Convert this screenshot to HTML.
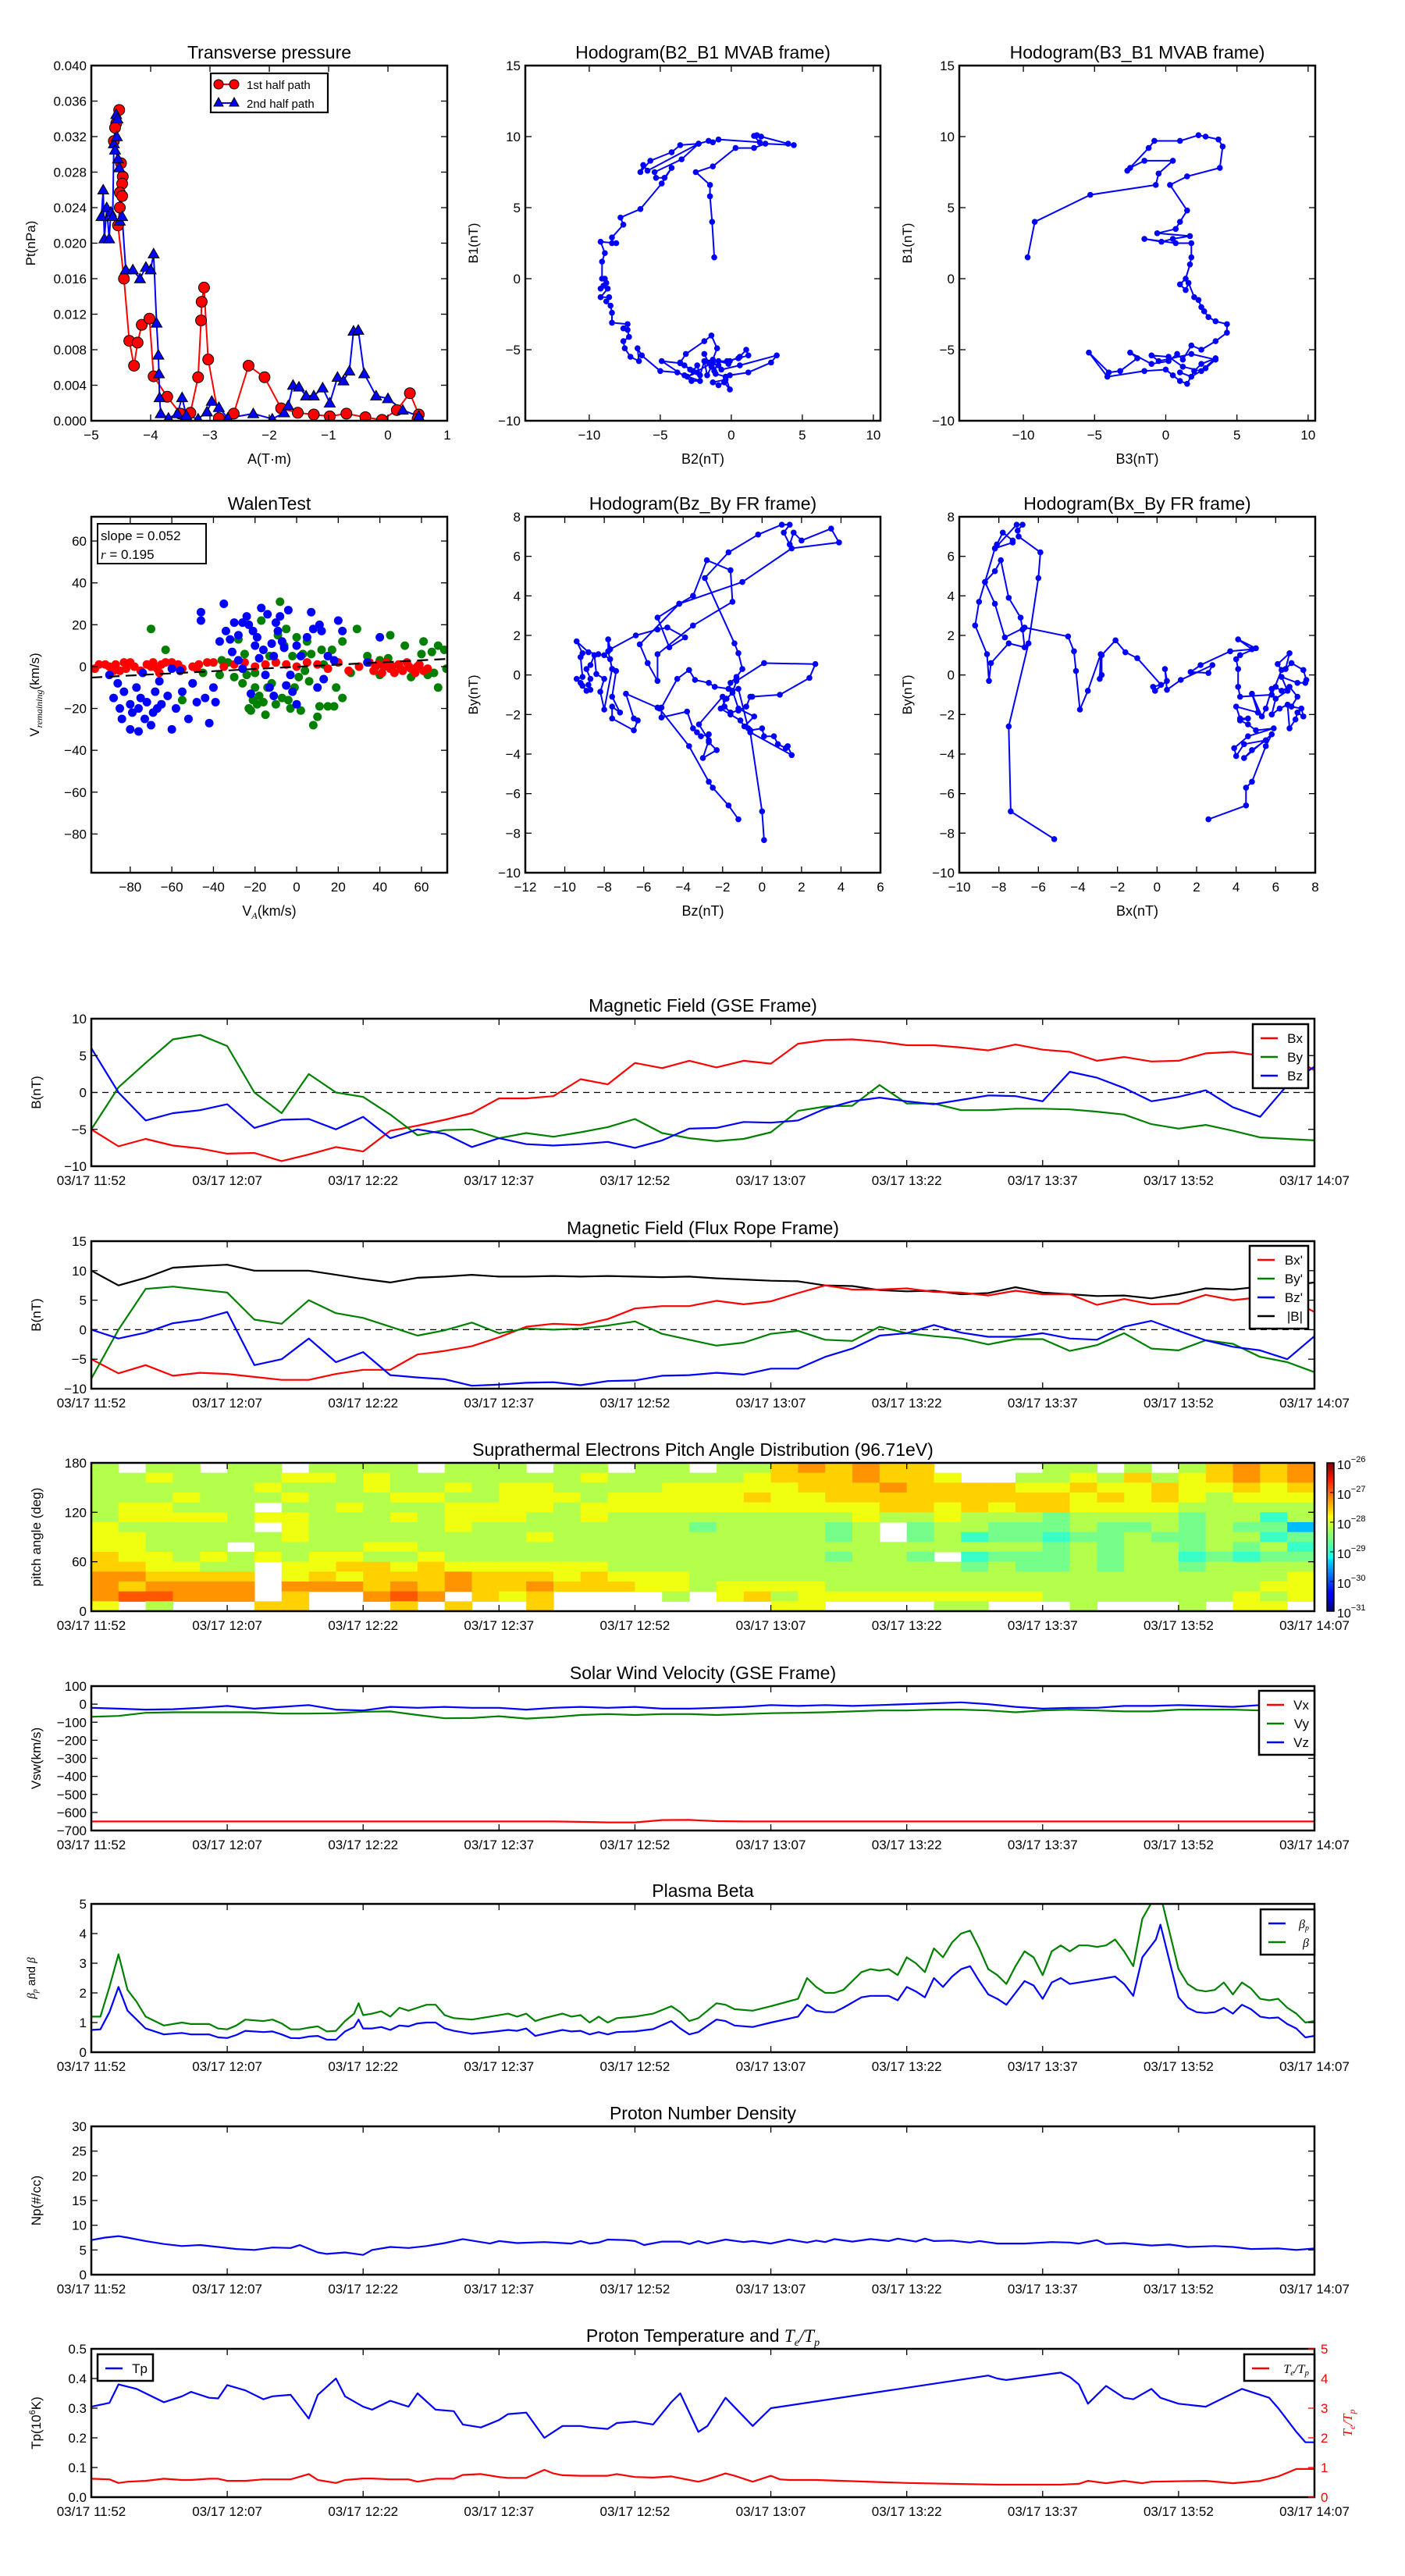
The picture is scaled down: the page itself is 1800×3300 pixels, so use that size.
<!DOCTYPE html>
<html><head><meta charset="utf-8"><title>Flux rope analysis</title>
<style>
html,body{margin:0;padding:0;background:#fff;}
svg{display:block;font-family:"Liberation Sans",sans-serif;}
</style></head>
<body>
<svg id="fig" xmlns="http://www.w3.org/2000/svg" width="1800" height="3300" viewBox="0 0 1800 3300">
<rect x="0" y="0" width="1800" height="3300" fill="#fff"/>
</svg>
<script>
// ---------------- DATA ----------------
const ptRed = [[-4.53,0.035],[-4.58,0.0335],[-4.6,0.033],[-4.62,0.0315],[-4.5,0.029],[-4.47,0.0275],[-4.48,0.0267],[-4.52,0.0257],[-4.48,0.0253],[-4.52,0.024],[-4.55,0.022],[-4.45,0.016],[-4.36,0.009],[-4.28,0.0062],[-4.22,0.0088],[-4.15,0.0108],[-4.02,0.0115],[-3.95,0.005],[-3.72,0.0027],[-3.5,0.0008],[-3.33,0.0009],[-3.2,0.0049],[-3.15,0.0113],[-3.14,0.0134],[-3.1,0.015],[-3.03,0.0069],[-2.85,0.0003],[-2.6,0.0008],[-2.35,0.0062],[-2.08,0.0049],[-1.8,0.0014],[-1.52,0.0009],[-1.25,0.0007],[-0.98,0.0005],[-0.7,0.0008],[-0.38,0.0004],[-0.1,0.0001],[0.15,0.0012],[0.37,0.0031],[0.52,0.0007],[0.5,0.0002]];
const ptBlue = [[-4.83,0.023],[-4.8,0.026],[-4.78,0.0205],[-4.74,0.024],[-4.7,0.0205],[-4.67,0.0235],[-4.64,0.023],[-4.62,0.0312],[-4.58,0.0345],[-4.56,0.034],[-4.57,0.032],[-4.6,0.0305],[-4.55,0.0295],[-4.53,0.0285],[-4.52,0.0225],[-4.48,0.023],[-4.42,0.017],[-4.3,0.017],[-4.18,0.016],[-4.08,0.0173],[-4.0,0.017],[-3.95,0.0188],[-3.9,0.011],[-3.87,0.0074],[-3.86,0.0053],[-3.85,0.0026],[-3.83,0.0008],[-3.7,0.0003],[-3.55,0.0008],[-3.47,0.0026],[-3.4,0.0006],[-3.2,0.0002],[-3.05,0.001],[-2.97,0.0022],[-2.85,0.0015],[-2.7,0.0003],[-2.27,0.0008],[-1.95,0.0002],[-1.75,0.0009],[-1.68,0.0017],[-1.6,0.004],[-1.5,0.0038],[-1.38,0.0028],[-1.25,0.0028],[-1.1,0.0037],[-0.98,0.002],[-0.85,0.0049],[-0.75,0.0045],[-0.65,0.0056],[-0.58,0.0101],[-0.5,0.0102],[-0.4,0.0053],[-0.2,0.0028],[0.0,0.0025],[0.25,0.0012],[0.52,0.0005]];

const hodoB2B1 = [[-1.2,1.5],[-1.35,4],[-1.5,5.8],[-1.5,6.6],[-2.5,7.5],[-1.3,7.9],[0.3,9.2],[1.6,9.2],[2.4,9.5],[4.4,9.4],[4,9.5],[2.1,10],[1.8,10.1],[1.6,10.05],[2,9.6],[-0.9,9.8],[-1.3,9.6],[-1.6,9.7],[-2.3,9.5],[-3.6,9.4],[-4.2,8.9],[-5.7,8.3],[-6.4,7.5],[-6.2,8],[-5.9,7.6],[-2.3,9.5],[-3.5,8.4],[-5.4,7.5],[-5.3,7.1],[-4.7,7.1],[-4.2,7.8],[-4.9,6.7],[-6.4,4.9],[-7.8,4.3],[-7.6,3.8],[-8.4,2.9],[-8.4,2.5],[-8.1,2.5],[-9.2,2.6],[-8.9,1.8],[-9.1,1.2],[-9.1,0],[-8.9,0],[-8.8,-0.3],[-9.2,-0.7],[-9,-0.5],[-8.7,-0.7],[-9.2,-1.3],[-8.6,-1.3],[-8.8,-1.6],[-8.5,-1.9],[-8.4,-2.4],[-8.4,-3.1],[-7.3,-3.2],[-7.6,-3.5],[-7.3,-3.6],[-7.2,-4.1],[-7.6,-4.4],[-7.5,-4.9],[-7.1,-5.5],[-6.5,-5.8],[-6.6,-4.9],[-6.3,-5.4],[-5,-6.5],[-3.8,-6.6],[-3.3,-6.8],[-2.2,-7.2],[-2.8,-7.2],[-4.9,-5.8],[-3.6,-5.95],[-3.3,-6.1],[-2.7,-6.5],[-2.4,-6.1],[-2.2,-6.8],[-1.9,-5.8],[-1.7,-6.8],[-1.4,-6.2],[-1.2,-6.5],[-0.9,-5.8],[-0.3,-5.8],[0.5,-5.6],[1.2,-5.4],[1.05,-5],[0.6,-5.5],[-0.1,-5.8],[-0.2,-6],[-1.3,-5.7],[-1,-4.9],[-1.4,-4],[-1.9,-4.4],[-3.2,-5.3],[-3.6,-5.9],[-2.9,-6.4],[-2.4,-6.6],[-3.1,-6.9],[-1.3,-5.9],[-1.1,-6.7],[-0.4,-6.9],[-0.1,-7.8],[-0.5,-7.3],[-0.9,-7.5],[-1.3,-7.3],[-0.4,-7.1],[-0.1,-6.8],[1.2,-6.6],[2.8,-5.9],[3.2,-5.4],[0.6,-6.1],[-0.7,-6.4],[-0.9,-6.1],[-1.6,-5.9],[-1.9,-5.3]];
const hodoB3B1 = [[-9.7,1.5],[-9.2,4],[-5.3,5.9],[-0.7,6.6],[-0.5,7.4],[0.5,8.3],[-1.5,8.3],[-2.5,7.8],[-2.7,7.6],[-1.2,9.2],[-0.8,9.7],[1,9.7],[2.3,10.1],[2.8,10],[3.7,9.8],[4,9.3],[3.8,7.8],[1.5,7.2],[0.3,6.6],[1.5,4.8],[1,4],[0.7,3.5],[-0.6,3.2],[1.7,3],[0.5,2.8],[-0.3,2.6],[-1.5,2.8],[0.7,2.5],[1.8,2.5],[1.8,1.5],[1.7,1],[1.4,0],[1,-0.4],[1.4,-0.8],[1.6,-0.3],[2,-1.3],[2.3,-1.5],[2.5,-2],[2.7,-2.3],[3,-2.7],[3.5,-3],[4.3,-3.2],[4.3,-3.8],[3.5,-4.4],[2.5,-5],[1.8,-4.7],[1.2,-5.7],[0.8,-5.3],[0.2,-5.8],[-1,-6],[-2.5,-5.2],[-2,-5.6],[-3.2,-6.5],[-4,-6.6],[-5.4,-5.2],[-4.1,-6.9],[-1.5,-6.5],[0,-6.4],[0.5,-6.8],[1,-7.2],[1.5,-7.4],[2,-6.5],[2.5,-6],[3.5,-5.6],[2.5,-6.5],[1.2,-6.2],[0.2,-5.5],[-1,-5.4],[-0.5,-5.8],[1.8,-5.3],[3.5,-5.7],[2.8,-6.3],[1.8,-6.9],[1,-6.6]];
const hodoBzBy = [[-1.2,-7.3],[-1.7,-6.6],[-2.5,-5.7],[-2.7,-5.4],[-3.7,-3.6],[-5.2,-1.7],[-5.3,-1.65],[-6.9,-0.95],[-6.5,-2.2],[-6.3,-2.3],[-6.5,-2.8],[-7.6,-2.2],[-7.6,-1.6],[-7.2,-1.9],[-7.6,-1.1],[-7.4,0.2],[-7.6,0.3],[-7.7,0.8],[-8,1],[-8.3,1.05],[-8.8,1.15],[-9.4,1.7],[-9.1,1.1],[-9.2,0.9],[-9.1,-0.1],[-9.4,-0.2],[-9.2,-0.4],[-9.1,-0.55],[-8.9,-0.8],[-8.7,-0.75],[-8.8,-0.5],[-8.7,-0.2],[-8.9,0.3],[-8.7,0.5],[-8.5,1],[-8.4,0.05],[-8,-0.2],[-8.2,-0.85],[-8,-1.75],[-7.6,0.3],[-7.8,1.2],[-7.8,1.8],[-7.7,1.3],[-6.4,2],[-5.3,2.3],[-4.8,2.4],[-3.9,1.9],[-4.7,1.4],[-5.3,2.9],[-4.2,3.6],[-3.5,4],[-2.8,5.8],[-1.6,5.3],[-1.5,3.7],[-3.5,2.5],[-5.3,1.05],[-5.3,-0.3],[-5.8,0.6],[-6.2,1.55],[-4.2,3.6],[-1,4.7],[1.5,6.4],[3.9,6.7],[3.5,7.4],[2,6.8],[1.6,7.2],[1.4,6.6],[1.1,7.2],[1.4,7.6],[1,7.6],[-0.2,7.1],[-1.7,6.2],[-2.9,4.9],[-1.4,1.6],[-1.2,1.1],[-1,0.3],[-1.3,-0.1],[-1.6,-0.4],[-1.7,-0.7],[-2.4,-0.6],[-2.7,-0.4],[-3.4,-0.25],[-3.7,0.25],[-4.3,-0.2],[-5.1,-1.65],[-5.1,-2.15],[-3.8,-1.85],[-3.5,-2.7],[-3.3,-2.9],[-3.1,-3.1],[-2.7,-3],[-2.7,-3.4],[-2.3,-3.8],[-3,-4.2],[-2.7,-3.3],[-3.2,-2.5],[-2,-1.1],[-1.9,-1.6],[-1.6,-1.9],[-1.2,-1.8],[-0.8,-1.6],[-0.6,-1.1],[-0.5,-1.1],[0.9,-1],[2.4,-0.15],[2.7,0.55],[0.1,0.6],[-1.3,-0.3],[-1.5,-0.9],[-1.8,-1.2],[-2.1,-1.7],[-1.6,-2],[-1.1,-2.3],[-0.9,-2.6],[-0.4,-2.1],[-1.2,-1.7],[-1.5,-0.8],[-1.2,-0.7],[-0.7,-2.7],[-0.6,-2.8],[0,-2.7],[0.1,-3.1],[0.6,-3.1],[0.8,-3.5],[1.2,-3.7],[1.3,-3.6],[1.5,-4.05],[-0.6,-2.9],[0,-6.9],[0.1,-8.35]];
const hodoBxBy = [[2.6,-7.3],[4.5,-6.6],[4.5,-5.7],[4.8,-5.4],[5.5,-3.6],[5.8,-3],[4.4,-4.2],[4.8,-3.8],[5.5,-3.3],[4.4,-3.5],[4,-4.1],[3.9,-3.7],[4.6,-3.1],[5.9,-2.7],[5,-2.8],[4.6,-2.5],[4.2,-2.3],[4.6,-2.2],[4.2,-2.2],[4,-1.6],[5.1,-1.9],[4.8,-0.95],[5.3,-2.1],[5.5,-1.7],[5.8,-0.7],[6,-0.6],[6.3,-0.8],[6.7,-0.6],[7.1,-1.1],[6.8,-1.6],[7.3,-1.7],[7.4,-2.1],[7.1,-1.9],[7,-2.25],[6.7,-2.7],[6.6,-1.5],[6.2,-1.7],[5.8,-2],[6,-1.2],[6.6,-0.8],[6.3,-0.1],[7.1,-0.4],[7.5,-0.4],[7.55,-0.25],[7.4,0.25],[6.8,0.6],[6.5,0.3],[6.7,1.1],[6.1,0.55],[6.3,0.25],[5.8,-1],[4.2,-1.1],[4.1,-0.6],[4.1,0.3],[4,0.8],[4.2,1],[5,1.35],[4.1,1.8],[4.8,1.3],[3.7,1.2],[2.2,0.5],[1.7,0.15],[2.6,0.1],[2.8,0.5],[1.2,-0.25],[0.5,-0.75],[0.4,0.3],[0.5,-0.3],[-0.1,-0.8],[-0.2,-0.6],[0.2,-0.5],[-1,0.85],[-1.6,1.15],[-2.1,1.75],[-2.8,1],[-2.8,0],[-2.9,-0.2],[-2.85,1.05],[-3.5,-0.8],[-3.9,-1.75],[-4.1,0.2],[-4.2,1.2],[-4.5,1.95],[-6.7,2.4],[-7.7,1.9],[-8.2,3.6],[-8.7,4.7],[-8.2,5.25],[-7.9,5.8],[-7.5,3.9],[-6.9,2.9],[-6.8,2.3],[-6.7,1.4],[-7.5,1.6],[-8.4,0.6],[-8.5,-0.3],[-8.6,1.05],[-9.2,2.5],[-9,3.7],[-8.7,4.7],[-8.2,6.4],[-8.1,6.6],[-7.8,7.2],[-7.3,6.8],[-7.3,6.7],[-8.2,6.4],[-7.1,7.6],[-6.8,7.6],[-7.05,7.3],[-7,7],[-5.9,6.2],[-6,4.9],[-6.5,1.6],[-7.5,-2.6],[-7.4,-6.9],[-5.2,-8.3]];

const walenRed = [[-97,-1],[-95,1],[-92,1],[-90,0],[-87,1],[-85,-2],[-83,2],[-80,2],[-78,0],[-75,-2],[-72,1],[-70,0],[-69,2],[-67,-1],[-65,1],[-63,2],[-60,2],[-57,1],[-55,-1],[-50,0],[-47,1],[-43,2],[-40,2],[-35,0],[-30,1],[-25,2],[-20,0],[-15,1],[-10,2],[-5,1],[0,0],[5,2],[10,1],[15,-1],[20,2],[25,-2],[30,0],[35,2],[37,-2],[39,1],[41,-3],[43,2],[45,-1],[47,-3],[49,1],[51,-2],[53,2],[55,-1],[57,-3],[59,1],[61,-2],[63,-1],[-88,-2],[-82,-1],[-66,-3],[-58,0],[-48,-1],[38,0],[42,0],[46,0],[50,-1],[54,0],[58,0]];
const walenBlue = [[-90,-4],[-88,-15],[-86,-8],[-85,-20],[-84,-25],[-83,-12],[-80,-30],[-80,-18],[-79,-22],[-76,-31],[-77,-10],[-76,-20],[-75,-15],[-74,-3],[-73,-25],[-72,-17],[-70,-28],[-69,-22],[-68,-12],[-67,-20],[-66,-7],[-65,-18],[-60,-30],[-62,-14],[-60,-1],[-58,-20],[-56,-2],[-55,-12],[-52,-25],[-50,-8],[-48,-17],[-46,26],[-46,22],[-44,-15],[-42,-27],[-40,-10],[-39,-17],[-37,12],[-35,30],[-34,17],[-32,13],[-31,7],[-30,21],[-28,15],[-28,3],[-26,21],[-24,24],[-23,20],[-22,-13],[-21,17],[-20,10],[-19,14],[-17,28],[-16,8],[-15,-4],[-14,25],[-13,-10],[-12,11],[-11,5],[-10,21],[-9,17],[-8,24],[-7,12],[-6,9],[-5,-9],[-4,27],[-3,-4],[-2,-12],[0,10],[0,-18],[2,5],[5,14],[7,26],[8,18],[10,-10],[11,20],[12,17],[13,-6],[15,5],[18,3],[20,22],[22,17],[40,14],[34,2],[-11,-14],[-26,-1],[-18,4]];
const walenGreen = [[-70,18],[-63,8],[-55,-16],[-50,-8],[-45,-3],[-37,-4],[-33,2],[-30,-5],[-28,13],[-26,-8],[-25,6],[-24,-4],[-23,-20],[-22,-21],[-21,-16],[-20,-10],[-19,-18],[-18,-14],[-17,22],[-16,-17],[-15,-23],[-14,-10],[-13,5],[-12,-8],[-10,-18],[-9,15],[-8,31],[-7,-15],[-6,10],[-5,18],[-4,-16],[-3,-20],[-2,5],[-1,-10],[0,14],[1,-5],[2,-21],[3,6],[5,12],[6,-7],[7,6],[8,-28],[10,-24],[11,-19],[12,8],[13,1],[15,-19],[17,8],[18,-19],[19,-10],[22,-15],[22,12],[26,-3],[29,18],[34,5],[40,3],[40,-4],[44,4],[45,15],[52,10],[55,-5],[60,6],[61,12],[63,-4],[65,7],[66,-3],[68,10],[68,-10],[71,8],[72,-1],[-36,3],[-20,-3],[-10,2],[4,-2]];
const walenSlope = 0.052;
const walenIntercept = -0.1;

const T3 = [0,3,6,9,12,15,18,21,24,27,30,33,36,39,42,45,48,51,54,57,60,63,66,69,72,75,78,81,84,87,90,93,96,99,102,105,108,111,114,117,120,123,126,129,132,135];
const gseBx = [-5,-7.3,-6.3,-7.2,-7.6,-8.3,-8.2,-9.3,-8.4,-7.4,-8,-5.2,-4.5,-3.7,-2.8,-0.8,-0.8,-0.5,1.8,1.1,4,3.3,4.3,3.4,4.3,3.9,6.6,7.1,7.2,6.9,6.4,6.4,6.1,5.7,6.5,5.8,5.5,4.3,4.8,4.2,4.3,5.3,5.5,5,5.2,3];
const gseBy = [-5,0.7,4,7.2,7.8,6.3,0,-2.8,2.5,0,-0.6,-3,-5.8,-5.1,-5,-6.2,-5.5,-6,-5.4,-4.7,-3.6,-5.5,-6.2,-6.6,-6.3,-5.4,-2.5,-1.9,-1.8,1.0,-1.5,-1.5,-2.4,-2.4,-2.2,-2.2,-2.3,-2.6,-3,-4.3,-4.9,-4.4,-5.2,-6.1,-6.3,-6.5];
const gseBz = [6,0,-3.8,-2.8,-2.4,-1.6,-4.8,-3.7,-3.6,-5,-3.3,-6.2,-5,-5.6,-7.4,-6.2,-7,-7.2,-7,-6.7,-7.5,-6.5,-4.9,-4.8,-4,-4.1,-3.8,-2.2,-1.2,-0.7,-1.2,-1.6,-1,-0.4,-0.5,-1.2,2.8,2,0.6,-1.2,-0.6,0.3,-2,-3.3,1,3.5];

const frBx = [-5,-7.4,-6,-7.8,-7.3,-7.5,-8,-8.5,-8.5,-7.5,-6.8,-6.8,-4.2,-3.6,-2.8,-1.3,0.5,1,0.8,1.8,3.6,4,4,4.9,4.3,4.8,6.2,7.5,6.8,6.8,7,6.4,6.3,5.8,6.6,6,6,4.2,5.2,4.3,4.4,5.9,5,5.5,5.3,3];
const frBy = [-8.3,0,6.9,7.3,6.8,6.3,1.7,1,5,2.8,2,0.5,-1,-0.1,1.2,-0.6,0.2,0,0.2,0.7,1.4,-0.7,-1.7,-2.7,-2.2,-0.7,-0.2,-1.7,-1.9,0.5,-0.6,-1.1,-1.5,-2.5,-1.6,-1.6,-3.6,-2.6,-0.6,-3.2,-3.5,-1.8,-2.4,-4.6,-5.5,-7.2];
const frBz = [0,-1.5,-0.5,1.1,1.7,3.0,-6,-5,-1.5,-5.5,-3.8,-7.7,-8.1,-8.4,-9.5,-9.3,-9,-8.9,-9.4,-8.7,-8.6,-7.8,-7.7,-7.3,-7.6,-6.6,-6.6,-4.6,-3.2,-1,-0.6,0.8,-0.5,-1.2,-1.2,-0.6,-1.5,-1.7,0.5,1.5,-0.2,-1.8,-2.9,-3.5,-5,-1.1];
const frBt = [10,7.5,8.8,10.5,10.8,11,10,10,10,9.3,8.6,8,8.8,9,9.3,9,9,9.1,9,9.1,9,8.9,9,8.7,8.5,8.3,8.2,7.5,7.4,6.7,6.5,6.6,6,6.2,7.2,6.3,6,5.7,5.8,5.3,6,7,6.8,7.3,7.4,8];

// PAD: rows from 180 deg (top) to 0 deg, 12-deg bins; each char a flux level (0-9), '.' = no data
const padRows = [
"5.55. 55.55 55.55 5.55. 55.55 78787 7.... 55.5. 57878",
"55655 55665 65555 55565 55556 77787 76..5 56575 67878",
"55555 56555 65565 66555 56666 67778 77776 67667 66767",
"55565 55655 56655 66656 66667 66777 77777 76767 65666",
"56655 5.556 55566 66566 66666 66667 76767 76666 55555",
"56666 56655 56566 65565 55555 55565 56555 45555 45535",
"65555 5.655 55565 55555 55455 5545. 45544 45445 45441",
"66555 55655 55555 56555 55555 5545. 45344 34454 45534",
"66555 .5555 66555 55555 55555 55555 55555 45455 45453",
"76656 56566 55655 55555 55555 55455 4.344 45455 34344",
"77665 5.667 76766 66665 55555 55555 55454 45455 45555",
"88777 7.676 77787 77676 66555 55555 55555 55555 55556",
"87888 8.888 78787 78777 66566 66555 55555 55555 55566",
"89988 8.7.. 898.7 67... .5.67 56666 66666 55555 55656",
"6.5.. .77.. .7.7. .7... ..... 66... .55.. .5... 5.66."
];

const swVx = [-650,-650,-650,-650,-650,-650,-650,-650,-650,-650,-650,-650,-650,-650,-650,-650,-650,-650,-652,-655,-655,-642,-641,-648,-650,-650,-650,-650,-650,-650,-650,-650,-650,-650,-650,-650,-650,-650,-650,-650,-650,-650,-650,-650,-650,-650];
const swVy = [-70,-65,-48,-45,-45,-45,-45,-52,-52,-50,-42,-40,-60,-78,-77,-67,-80,-72,-60,-55,-60,-55,-55,-60,-55,-50,-48,-45,-40,-35,-35,-30,-30,-35,-45,-35,-30,-35,-40,-40,-30,-30,-30,-35,-25,-15];
const swVz = [-20,-25,-30,-28,-20,-10,-25,-15,-5,-30,-35,-15,-20,-15,-20,-20,-30,-20,-15,-20,-15,-25,-25,-20,-15,-5,-10,-5,-10,-5,0,5,10,0,-15,-25,-20,-20,-10,-10,-5,-10,-15,-5,5,10];

const betaT = [0,1,2,3,4,5,6,8,10,11,13,14,15,16,17,19,20,21,22,23,24,25,26,27,28,29,29.5,30,31,32,33,34,35,36,37,38,39,40,42,44,46,47,48,49,50,52,53,54,55,56,57,58,60,62,64,65,66,67,69,70,71,73,75,78,79,80,81,82,83,85,86,87,88,89,90,91,92,93,94,95,96,97,98,99,100,101,102,103,104,105,106,107,108,109,110,111,112,113,114,115,116,117.5,118,120,121,122,123,124,125,126,127,128,129,130,131,132,133,134,135];
const betaAll = [1.2,1.2,2.2,3.3,2.1,1.7,1.2,0.9,1.0,0.95,0.95,0.8,0.77,0.9,1.1,1.05,1.1,0.97,0.77,0.77,0.83,0.87,0.7,0.72,1.05,1.3,1.65,1.25,1.3,1.38,1.2,1.5,1.4,1.5,1.6,1.6,1.25,1.15,1.1,1.2,1.3,1.2,1.3,1.05,1.15,1.3,1.2,1.25,1.0,1.2,1.0,1.15,1.2,1.3,1.55,1.35,1.05,1.15,1.65,1.6,1.45,1.4,1.55,1.8,2.5,2.2,2.0,2.0,2.1,2.7,2.8,2.75,2.8,2.6,3.2,3.0,2.7,3.5,3.2,3.7,4.0,4.1,3.5,2.8,2.6,2.3,2.9,3.4,3.2,2.6,3.4,3.6,3.4,3.6,3.6,3.55,3.6,3.8,3.4,2.9,4.5,5.3,5.3,2.8,2.3,2.1,2.05,2.1,2.35,1.95,2.35,2.15,1.8,1.75,1.8,1.5,1.3,1.0,1.05];
const betaP = [0.75,0.77,1.35,2.2,1.4,1.1,0.8,0.6,0.65,0.6,0.6,0.5,0.48,0.58,0.72,0.68,0.7,0.6,0.48,0.47,0.53,0.55,0.42,0.42,0.7,0.85,1.1,0.8,0.8,0.85,0.75,0.9,0.87,0.97,1.0,1.0,0.8,0.72,0.62,0.68,0.75,0.72,0.8,0.55,0.62,0.75,0.7,0.72,0.6,0.68,0.6,0.68,0.7,0.78,1.05,0.8,0.6,0.68,1.1,1.05,0.9,0.85,1.0,1.2,1.6,1.4,1.35,1.35,1.5,1.85,1.9,1.9,1.9,1.75,2.2,2.05,1.85,2.5,2.2,2.55,2.8,2.9,2.4,1.95,1.8,1.6,2.0,2.4,2.25,1.8,2.35,2.5,2.3,2.35,2.4,2.45,2.5,2.55,2.3,1.9,3.2,3.8,4.3,1.85,1.5,1.35,1.32,1.35,1.5,1.3,1.6,1.45,1.2,1.15,1.17,0.95,0.8,0.5,0.55];

const npT = [0,1.5,3,4,6,8,10,12,14,16,18,20,22,23,25,26,28,30,31,33,35,37,39,41,43,44,45,47,50,53,54,55,56,57,59,60,61,63,65,66,67,68,70,72,73,75,77,79,80,81,82,84,86,88,89,91,92,93,95,97,98,100,103,106,108,109,111,112,114,117,119,121,124,126,128,131,133,135];
const npV = [7,7.5,7.8,7.5,6.8,6.2,5.8,6,5.6,5.2,5,5.5,5.4,6,4.5,4.2,4.5,4,5,5.6,5.4,5.8,6.4,7.2,6.6,6.3,6.8,6.4,6.6,6.3,6.8,6.3,6.5,7.1,7,6.8,6,6.7,6.7,6.2,6.8,6.3,7.1,6.6,6.8,6.3,7.1,6.5,6.9,6.6,7.2,6.7,7.2,6.8,7.3,6.7,7.3,6.8,6.9,6.5,6.8,6.3,6.3,6.6,6.5,6.3,7,6.2,6.4,5.9,6.1,5.6,5.8,5.6,5.2,5.3,5,5.3];

const tpT = [0,2,3,5,6,8,10,11,13,14,15,17,19,20,22,24,25,27,28,30,31,33,35,36,38,40,41,43,45,46,48,50,51,52,54,55,57,58,60,62,64,65,67,68,70,73,75,99,100,101,107,108,109,110,112,114,115,117,118,120,123,127,130,131,133,134,135];
const tpV = [0.305,0.318,0.38,0.365,0.35,0.32,0.34,0.355,0.335,0.333,0.378,0.36,0.33,0.34,0.345,0.265,0.345,0.4,0.34,0.305,0.295,0.325,0.305,0.35,0.295,0.29,0.245,0.235,0.26,0.28,0.285,0.2,0.22,0.24,0.24,0.235,0.23,0.25,0.255,0.245,0.32,0.35,0.22,0.24,0.335,0.24,0.3,0.41,0.4,0.395,0.42,0.405,0.38,0.315,0.375,0.335,0.33,0.365,0.335,0.315,0.305,0.365,0.335,0.3,0.22,0.185,0.185];
const ratioT = [0,2,3,4,6,8,10,11,13,14,15,17,19,20,22,24,25,27,28,30,31,33,35,36,38,40,41,43,45,46,48,50,51,52,54,55,57,58,60,62,64,66,67,68,70,71,73,75,76,77,80,90,100,105,107,109,110,112,114,116,117,123,126,129,131,133,135];
const ratioV = [0.62,0.6,0.48,0.52,0.55,0.62,0.58,0.58,0.62,0.62,0.55,0.55,0.6,0.6,0.6,0.78,0.58,0.48,0.58,0.63,0.63,0.6,0.6,0.52,0.62,0.62,0.75,0.78,0.68,0.65,0.65,0.92,0.8,0.74,0.72,0.72,0.72,0.78,0.68,0.66,0.7,0.58,0.52,0.6,0.8,0.72,0.52,0.72,0.6,0.58,0.58,0.48,0.42,0.42,0.42,0.45,0.55,0.47,0.55,0.47,0.52,0.55,0.47,0.55,0.7,0.95,0.95];

const timeTicks = [0,15,30,45,60,75,90,105,120,135];
const timeLabels = ["03/17 11:52","03/17 12:07","03/17 12:22","03/17 12:37","03/17 12:52","03/17 13:07","03/17 13:22","03/17 13:37","03/17 13:52","03/17 14:07"];

// ---------------- DRAWING ----------------
const NS = 'http://www.w3.org/2000/svg';
const svg = document.getElementById('fig');
function mk(tag, attrs, parent, name, inter) {
  const e = document.createElementNS(NS, tag);
  for (const k in attrs) e.setAttribute(k, attrs[k]);
  
  
  parent.appendChild(e);
  return e;
}
function txt(s, x, y, attrs, parent, name) {
  const a = Object.assign({x: x, y: y, 'font-size': 17, fill: '#000'}, attrs || {});
  const t = mk('text', a, parent, name, false);
  t.textContent = s;
  return t;
}
const minus = v => String(v).replace('-', '\u2212');

function makeAxes(name, box, xlim, ylim) {
  const g = mk('g', {}, svg, name, false);
  const defs = mk('defs', {}, g, name + '-defs', false);
  const cp = mk('clipPath', {id: 'clip-' + name}, defs, name + '-clip', false);
  mk('rect', {x: box.x, y: box.y, width: box.w, height: box.h}, cp, name + '-clip-rect', false);
  const data = mk('g', {'clip-path': 'url(#clip-' + name + ')'}, g, name + '-plot-area', false);
  const sx = v => box.x + (v - xlim[0]) / (xlim[1] - xlim[0]) * box.w;
  const sy = v => box.y + box.h - (v - ylim[0]) / (ylim[1] - ylim[0]) * box.h;
  return {name, g, data, sx, sy, box};
}
function frame(ax, xt, xl, yt, yl, opt) {
  opt = opt || {};
  const b = ax.box, g = ax.g, tl = 8;
  const tg = mk('g', {stroke: '#000', 'stroke-width': 1.3}, g, ax.name + '-ticks', false);
  xt.forEach((v, i) => {
    const x = ax.sx(v);
    mk('line', {x1: x, y1: b.y + b.h, x2: x, y2: b.y + b.h - tl}, tg, 'x-tick', false);
    mk('line', {x1: x, y1: b.y, x2: x, y2: b.y + tl}, tg, 'x-tick-top', false);
    txt(xl[i], x, b.y + b.h + 24, {'text-anchor': 'middle', 'font-size': opt.xfs || 17}, g, 'x-tick-label');
  });
  yt.forEach((v, i) => {
    const y = ax.sy(v);
    mk('line', {x1: b.x, y1: y, x2: b.x + tl, y2: y}, tg, 'y-tick', false);
    if (!opt.noRightTicks) mk('line', {x1: b.x + b.w, y1: y, x2: b.x + b.w - tl, y2: y}, tg, 'y-tick-right', false);
    txt(yl[i], b.x - 6, y + 6, {'text-anchor': 'end', 'font-size': 17}, g, 'y-tick-label');
  });
  mk('rect', {x: b.x, y: b.y, width: b.w, height: b.h, fill: 'none', stroke: '#000', 'stroke-width': 2.5}, g, ax.name + '-frame', false);
  if (opt.title) txt(opt.title, b.x + b.w / 2, b.y - 9, {'text-anchor': 'middle', 'font-size': 23}, g, 'chart-title');
  if (opt.xlabel) txt(opt.xlabel, b.x + b.w / 2, b.y + b.h + 55, {'text-anchor': 'middle', 'font-size': 18}, g, 'x-axis-title');
  if (opt.ylabel) {
    const yx = opt.ylx || (b.x - 70), yy = b.y + b.h / 2;
    txt(opt.ylabel, yx, yy, {'text-anchor': 'middle', 'font-size': 17, transform: 'rotate(-90 ' + yx + ' ' + yy + ')'}, g, 'y-axis-title');
  }
}
function line(ax, xs, ys, color, name, w, dash) {
  const pts = xs.map((x, i) => ax.sx(x).toFixed(1) + ',' + ax.sy(ys[i]).toFixed(1)).join(' ');
  const a = {points: pts, fill: 'none', stroke: color, 'stroke-width': w || 2.2, 'stroke-linejoin': 'round'};
  if (dash) a['stroke-dasharray'] = dash;
  return mk('polyline', a, ax.data, name, false);
}
function pairLine(ax, pairs, color, name, w) {
  return line(ax, pairs.map(p => p[0]), pairs.map(p => p[1]), color, name, w);
}
function dots(ax, pairs, color, r, name, stroke) {
  const g = mk('g', {}, ax.data, name, false);
  pairs.forEach(p => {
    const c = mk('circle', {cx: ax.sx(p[0]), cy: ax.sy(p[1]), r: r, fill: color, stroke: stroke || 'none', 'stroke-width': 1}, g, name + '-point', false);
  });
  return g;
}
function tris(ax, pairs, color, s, name) {
  const g = mk('g', {}, ax.data, name, false);
  pairs.forEach(p => {
    const x = ax.sx(p[0]), y = ax.sy(p[1]);
    mk('polygon', {points: `${x},${y - s} ${x - s},${y + s * 0.75} ${x + s},${y + s * 0.75}`, fill: color, stroke: '#000', 'stroke-width': 1}, g, name + '-point', false);
  });
  return g;
}
function legend(parent, x, y, w, entries, name, fs) {
  const g = mk('g', {}, parent, name, false);
  const h = entries.length * 24 + 10;
  mk('rect', {x: x, y: y, width: w, height: h, fill: '#fff', stroke: '#000', 'stroke-width': 2.5}, g, name + '-box', false);
  entries.forEach((e, i) => {
    const yy = y + 18 + i * 24;
    mk('line', {x1: x + 10, y1: yy, x2: x + 32, y2: yy, stroke: e[1], 'stroke-width': 2.5}, g, 'legend-entry-line', false);
    const t = txt('', x + w - 7, yy + 6, {'text-anchor': 'end', 'font-size': fs || 17}, g, 'legend-entry-label');
    if (e[2]) t.innerHTML = e[2]; else t.textContent = e[0];
  });
  return g;
}
const range = (a, b, s) => { const r = []; for (let v = a; v <= b + 1e-9; v += s) r.push(+v.toFixed(6)); return r; };

// --- Row 1 ---
(function(){
  const ax = makeAxes('transverse-pressure', {x:117,y:84,w:456,h:455}, [-5,1], [0,0.04]);
  line(ax, ptRed.map(p=>p[0]), ptRed.map(p=>p[1]), '#f00', 'first-half-line', 2);
  line(ax, ptBlue.map(p=>p[0]), ptBlue.map(p=>p[1]), '#00f', 'second-half-line', 2);
  dots(ax, ptRed, '#f00', 7, 'first-half-markers', '#000');
  tris(ax, ptBlue, '#00f', 7, 'second-half-markers');
  const yt = range(0, 0.04, 0.004);
  frame(ax, range(-5,1,1), range(-5,1,1).map(minus), yt, yt.map(v=>v.toFixed(3)), {title:'Transverse pressure', xlabel:'A(T\u00b7m)', ylabel:'Pt(nPa)', ylx:45});
  const lg = mk('g', {}, ax.g, 'pressure-legend', false);
  mk('rect', {x:270,y:94,width:150,height:50,fill:'#fff',stroke:'#000','stroke-width':2.2}, lg, 'pressure-legend-box', false);
  mk('line', {x1:280,y1:108,x2:300,y2:108,stroke:'#f00','stroke-width':2}, lg, 'legend-entry-line', false);
  mk('circle', {cx:280,cy:108,r:6,fill:'#f00',stroke:'#000'}, lg, 'legend-marker', false);
  mk('circle', {cx:300,cy:108,r:6,fill:'#f00',stroke:'#000'}, lg, 'legend-marker', false);
  txt('1st half path', 316, 114, {'font-size':15}, lg, 'legend-entry-label');
  mk('line', {x1:280,y1:132,x2:300,y2:132,stroke:'#00f','stroke-width':2}, lg, 'legend-entry-line', false);
  mk('polygon', {points:'280,125 274,136 286,136',fill:'#00f',stroke:'#000'}, lg, 'legend-marker', false);
  mk('polygon', {points:'300,125 294,136 306,136',fill:'#00f',stroke:'#000'}, lg, 'legend-marker', false);
  txt('2nd half path', 316, 138, {'font-size':15}, lg, 'legend-entry-label');
})();
(function(){
  const ax = makeAxes('hodogram-b2-b1', {x:673,y:84,w:455,h:455}, [-14.5,10.5], [-10,15]);
  pairLine(ax, hodoB2B1, '#00f', 'b2-b1-path', 2);
  dots(ax, hodoB2B1, '#00f', 3.8, 'b2-b1-points');
  frame(ax, [-10,-5,0,5,10], ['\u221210','\u22125','0','5','10'], [-10,-5,0,5,10,15], ['\u221210','\u22125','0','5','10','15'], {title:'Hodogram(B2_B1 MVAB frame)', xlabel:'B2(nT)', ylabel:'B1(nT)', ylx:612});
})();
(function(){
  const ax = makeAxes('hodogram-b3-b1', {x:1229,y:84,w:456,h:455}, [-14.5,10.5], [-10,15]);
  pairLine(ax, hodoB3B1, '#00f', 'b3-b1-path', 2);
  dots(ax, hodoB3B1, '#00f', 3.8, 'b3-b1-points');
  frame(ax, [-10,-5,0,5,10], ['\u221210','\u22125','0','5','10'], [-10,-5,0,5,10,15], ['\u221210','\u22125','0','5','10','15'], {title:'Hodogram(B3_B1 MVAB frame)', xlabel:'B3(nT)', ylabel:'B1(nT)', ylx:1168});
})();
// --- Row 2 ---
(function(){
  const ax = makeAxes('walen-test', {x:117,y:662,w:456,h:456}, [-98.7,72.4], [-98.5,71.6]);
  dots(ax, walenGreen, '#008000', 5.5, 'walen-green-points');
  dots(ax, walenRed, '#f00', 5.5, 'walen-red-points');
  dots(ax, walenBlue, '#00f', 5.5, 'walen-blue-points');
  const fx = [-98.7, 72.4];
  line(ax, fx, fx.map(x => walenSlope * x + walenIntercept), '#000', 'walen-fit-line', 2.2, '14,8');
  const yt = range(-80,60,20);
  frame(ax, yt, yt.map(minus), yt, yt.map(minus), {title:'WalenTest', ylabel:'', ylx:45});
  const xl = txt('', 345, 1173, {'text-anchor':'middle','font-size':18}, ax.g, 'x-axis-title');
  xl.innerHTML = 'V<tspan font-size="12" dy="4" font-style="italic" font-family="Liberation Serif">A</tspan><tspan dy="-4">(km/s)</tspan>';
  const yl = txt('', 50, 890, {'text-anchor':'middle','font-size':17, transform:'rotate(-90 50 890)'}, ax.g, 'y-axis-title');
  yl.innerHTML = 'V<tspan font-size="12" dy="4" font-style="italic" font-family="Liberation Serif">remaining</tspan><tspan dy="-4">(km/s)</tspan>';
  const bx = mk('g', {}, ax.g, 'walen-stats-box', false);
  mk('rect', {x:125,y:671,width:139,height:51,fill:'#fff',stroke:'#000','stroke-width':2}, bx, 'stats-box-frame', false);
  txt('slope = 0.052', 129, 692, {'font-size':17}, bx, 'slope-label');
  const r = txt('', 129, 716, {'font-size':17}, bx, 'r-label');
  r.innerHTML = '<tspan font-style="italic" font-family="Liberation Serif">r</tspan> = 0.195';
})();
(function(){
  const ax = makeAxes('hodogram-bz-by', {x:673,y:662,w:455,h:456}, [-12,6], [-10,8]);
  pairLine(ax, hodoBzBy, '#00f', 'bz-by-path', 2);
  dots(ax, hodoBzBy, '#00f', 3.8, 'bz-by-points');
  const xt = range(-12,6,2), yt = range(-10,8,2);
  frame(ax, xt, xt.map(minus), yt, yt.map(minus), {title:'Hodogram(Bz_By FR frame)', xlabel:'Bz(nT)', ylabel:'By(nT)', ylx:612});
})();
(function(){
  const ax = makeAxes('hodogram-bx-by', {x:1229,y:662,w:456,h:456}, [-10,8], [-10,8]);
  pairLine(ax, hodoBxBy, '#00f', 'bx-by-path', 2);
  dots(ax, hodoBxBy, '#00f', 3.8, 'bx-by-points');
  const xt = range(-10,8,2), yt = range(-10,8,2);
  frame(ax, xt, xt.map(minus), yt, yt.map(minus), {title:'Hodogram(Bx_By FR frame)', xlabel:'Bx(nT)', ylabel:'By(nT)', ylx:1168});
})();

// --- Time series panels ---
const TX = 117, TW = 1567;
function timeFrame(ax, yt, yl, title, ylabel, opt) {
  frame(ax, timeTicks, timeLabels, yt, yl, Object.assign({title: title, ylabel: ylabel, ylx: 52}, opt || {}));
}
(function(){
  const ax = makeAxes('magnetic-field-gse', {x:TX,y:1305,w:TW,h:189}, [0,135], [-10,10]);
  line(ax, [0,135], [0,0], '#000', 'zero-line', 1.2, '8,6');
  line(ax, T3, gseBx, '#f00', 'bx-line');
  line(ax, T3, gseBy, '#008000', 'by-line');
  line(ax, T3, gseBz, '#00f', 'bz-line');
  timeFrame(ax, [-10,-5,0,5,10], ['\u221210','\u22125','0','5','10'], 'Magnetic Field (GSE Frame)', 'B(nT)');
  legend(ax.g, 1605, 1312, 71, [['Bx','#f00'],['By','#008000'],['Bz','#00f']], 'gse-legend');
})();
(function(){
  const ax = makeAxes('magnetic-field-flux-rope', {x:TX,y:1590,w:TW,h:189}, [0,135], [-10,15]);
  line(ax, [0,135], [0,0], '#000', 'zero-line', 1.2, '8,6');
  line(ax, T3, frBt, '#000', 'btotal-line');
  line(ax, T3, frBx, '#f00', 'bx-prime-line');
  line(ax, T3, frBy, '#008000', 'by-prime-line');
  line(ax, T3, frBz, '#00f', 'bz-prime-line');
  timeFrame(ax, [-10,-5,0,5,10,15], ['\u221210','\u22125','0','5','10','15'], 'Magnetic Field (Flux Rope Frame)', 'B(nT)');
  legend(ax.g, 1601, 1596, 75, [["Bx'",'#f00'],["By'",'#008000'],["Bz'",'#00f'],['|B|','#000']], 'flux-rope-legend');
})();
(function(){
  const ax = makeAxes('pitch-angle-distribution', {x:TX,y:1874,w:TW,h:190}, [0,135], [0,180]);
  const rows = padRows.map(r => r.replace(/\s/g, ''));
  const nC = 45, nR = rows.length;
  const jet = p => {
    const c = v => Math.max(0, Math.min(1, v));
    return 'rgb(' + Math.round(255*c(1.5-Math.abs(4*p-3))) + ',' + Math.round(255*c(1.5-Math.abs(4*p-2))) + ',' + Math.round(255*c(1.5-Math.abs(4*p-1))) + ')';
  };
  const cg = mk('g', {}, ax.data, 'pad-cells', false);
  rows.forEach((row, ri) => {
    for (let ci = 0; ci < nC; ci++) {
      const ch = row[ci] || '.';
      if (ch === '.') continue;
      const logv = -31 + 5 * (0.25 + (+ch) * 0.06);
      const p = (logv + 31) / 5;
      const t0 = ci * 135 / nC, t1 = (ci + 1) * 135 / nC;
      const a1 = 180 - ri * 180 / nR, a0 = 180 - (ri + 1) * 180 / nR;
      mk('rect', {x: ax.sx(t0), y: ax.sy(a1), width: ax.sx(t1) - ax.sx(t0) + 0.6, height: ax.sy(a0) - ax.sy(a1) + 0.6, fill: jet(p)}, cg, 'pad-cell', false);
    }
  });
  timeFrame(ax, [0,60,120,180], ['0','60','120','180'], 'Suprathermal Electrons Pitch Angle Distribution (96.71eV)', 'pitch angle (deg)');
  // colorbar
  const cb = mk('g', {}, svg, 'colorbar', false);
  const defs = mk('defs', {}, cb, 'colorbar-defs', false);
  const lg = mk('linearGradient', {id:'jetgrad', x1:0, y1:1, x2:0, y2:0}, defs, 'jet-gradient', false);
  [[0,'#00007f'],[0.11,'#0000ff'],[0.125,'#0000ff'],[0.34,'#00d4ff'],[0.36,'#0dffe9'],[0.5,'#7dff7a'],[0.64,'#ffff00'],[0.66,'#ffe600'],[0.89,'#ff1400'],[1,'#7f0000']].forEach(s => {
    mk('stop', {offset: s[0], 'stop-color': s[1]}, lg, 'gradient-stop', false);
  });
  mk('rect', {x:1700,y:1874,width:9,height:190,fill:'url(#jetgrad)',stroke:'#000','stroke-width':1.5}, cb, 'colorbar-scale', false);
  [-26,-27,-28,-29,-30,-31].forEach((e, i) => {
    const y = 1874 + i * 38;
    mk('line', {x1:1709,y1:y,x2:1704,y2:y,stroke:'#000','stroke-width':1}, cb, 'colorbar-tick', false);
    const t = txt('', 1713, y + 8, {'font-size':16}, cb, 'colorbar-tick-label');
    t.innerHTML = '10<tspan font-size="11" dy="-9">\u2212' + (-e) + '</tspan>';
  });
})();
(function(){
  const ax = makeAxes('solar-wind-velocity', {x:TX,y:2160,w:TW,h:185}, [0,135], [-700,100]);
  line(ax, T3, swVx, '#f00', 'vx-line');
  line(ax, T3, swVy, '#008000', 'vy-line');
  line(ax, T3, swVz, '#00f', 'vz-line');
  const yt = range(-700,100,100);
  timeFrame(ax, yt, yt.map(minus), 'Solar Wind Velocity (GSE Frame)', 'Vsw(km/s)');
  legend(ax.g, 1613, 2166, 71, [['Vx','#f00'],['Vy','#008000'],['Vz','#00f']], 'velocity-legend');
})();
(function(){
  const ax = makeAxes('plasma-beta', {x:TX,y:2439,w:TW,h:190}, [0,135], [0,5]);
  line(ax, betaT, betaP, '#00f', 'beta-p-line');
  line(ax, betaT, betaAll, '#008000', 'beta-line');
  timeFrame(ax, [0,1,2,3,4,5], ['0','1','2','3','4','5'], 'Plasma Beta', '');
  const yl = txt('', 45, 2534, {'text-anchor':'middle','font-size':15, transform:'rotate(-90 45 2534)'}, ax.g, 'y-axis-title');
  yl.innerHTML = '<tspan font-style="italic" font-family="Liberation Serif">\u03b2<tspan font-size="10" dy="3">p</tspan></tspan><tspan dy="-3"> and </tspan><tspan font-style="italic" font-family="Liberation Serif">\u03b2</tspan>';
  legend(ax.g, 1615, 2446, 69, [['\u03b2p','#00f','<tspan font-style="italic" font-family="Liberation Serif">\u03b2<tspan font-size="10" dy="3">p</tspan></tspan>'],['\u03b2','#008000','<tspan font-style="italic" font-family="Liberation Serif">\u03b2</tspan>']], 'beta-legend', 16);
})();
(function(){
  const ax = makeAxes('proton-density', {x:TX,y:2724,w:TW,h:190}, [0,135], [0,30]);
  line(ax, npT, npV, '#00f', 'np-line');
  const yt = range(0,30,5);
  timeFrame(ax, yt, yt.map(String), 'Proton Number Density', 'Np(#/cc)');
})();
(function(){
  const ax = makeAxes('proton-temperature', {x:TX,y:3009,w:TW,h:190}, [0,135], [0,0.5]);
  const axR = {sx: ax.sx, sy: v => ax.sy(v / 10), data: ax.data};
  line(ax, tpT, tpV, '#00f', 'tp-line');
  line(axR, ratioT, ratioV, '#f00', 'te-tp-ratio-line');
  const yt = range(0,0.5,0.1);
  frame(ax, timeTicks, timeLabels, yt, yt.map(v=>v.toFixed(1)), {noRightTicks:true, ylabel:'', ylx:52});
  const ti = txt('', TX + TW/2, 3000, {'text-anchor':'middle','font-size':23}, ax.g, 'chart-title');
  ti.innerHTML = 'Proton Temperature and <tspan font-style="italic" font-family="Liberation Serif">T<tspan font-size="14" dy="5">e</tspan><tspan dy="-5">/T</tspan><tspan font-size="14" dy="5">p</tspan></tspan>';
  const yl = txt('', 52, 3104, {'text-anchor':'middle','font-size':17, transform:'rotate(-90 52 3104)'}, ax.g, 'y-axis-title');
  yl.innerHTML = 'Tp(10<tspan font-size="11" dy="-7">6</tspan><tspan dy="7">K)</tspan>';
  const rg = mk('g', {}, ax.g, 'right-axis', false);
  [0,1,2,3,4,5].forEach(v => {
    const y = ax.sy(v / 10);
    mk('line', {x1:TX+TW, y1:y, x2:TX+TW-8, y2:y, stroke:'#f00', 'stroke-width':1.3}, rg, 'right-y-tick', false);
    txt(String(v), TX+TW+8, y + 6, {'font-size':17, fill:'#f00'}, rg, 'right-y-tick-label');
  });
  const ryl = txt('', 1732, 3104, {'text-anchor':'middle','font-size':17, fill:'#f00', transform:'rotate(-90 1732 3104)'}, rg, 'right-y-axis-title');
  ryl.innerHTML = '<tspan font-style="italic" font-family="Liberation Serif">T<tspan font-size="12" dy="4">e</tspan><tspan dy="-4">/T</tspan><tspan font-size="12" dy="4">p</tspan></tspan>';
  legend(ax.g, 125, 3016, 71, [['Tp','#00f']], 'tp-legend');
  legend(ax.g, 1594, 3016, 90, [['Te/Tp','#f00','<tspan font-style="italic" font-family="Liberation Serif">T<tspan font-size="11" dy="3">e</tspan><tspan dy="-3">/T</tspan><tspan font-size="11" dy="3">p</tspan></tspan>']], 'ratio-legend', 16);
})();
</script>
</body></html>
